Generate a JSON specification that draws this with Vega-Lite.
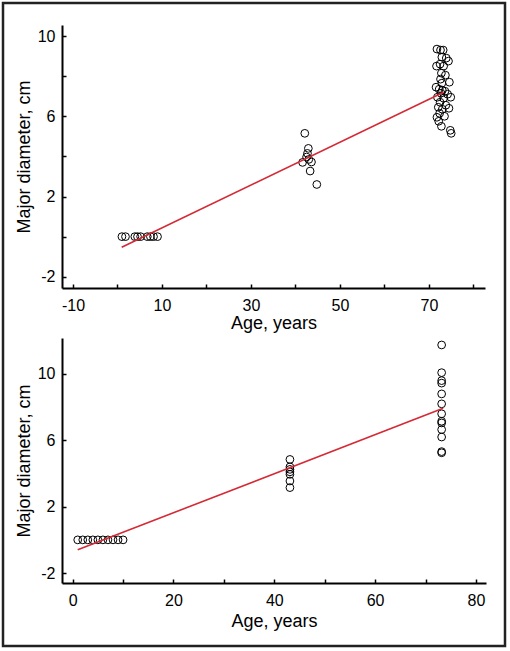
{
  "$schema": "https://vega.github.io/schema/vega-lite/v6.json",
  "padding": {"left": 3, "top": 3, "right": 2, "bottom": 2},
  "params": [{"name": "width", "value": 502}, {"name": "height", "value": 643}],
  "config": {
    "group": {"stroke": "#222222", "strokeWidth": 2.5, "fill": "white"},
    "view": {"stroke": null},
    "font": "Liberation Sans",
    "axis": {
      "grid": false,
      "domainColor": "black",
      "domainWidth": 2,
      "tickColor": "black",
      "tickWidth": 1.5,
      "tickSize": -4,
      "labelColor": "black",
      "labelFont": "Liberation Sans",
      "labelFontSize": 16,
      "labelFlush": false,
      "labelOverlap": false,
      "titleFont": "Liberation Sans",
      "titleFontSize": 18,
      "titleFontWeight": "normal",
      "titleColor": "black"
    }
  },
  "datasets": {
    "pts1": [
      {"age": 1.0, "diam": 0}, {"age": 1.8, "diam": 0}, {"age": 3.9, "diam": 0}, {"age": 4.5, "diam": 0},
      {"age": 5.2, "diam": 0}, {"age": 6.7, "diam": 0}, {"age": 7.4, "diam": 0}, {"age": 8.1, "diam": 0},
      {"age": 9.0, "diam": 0},
      {"age": 42.1, "diam": 5.15}, {"age": 42.9, "diam": 4.4}, {"age": 42.7, "diam": 4.15},
      {"age": 42.5, "diam": 3.97}, {"age": 41.6, "diam": 3.7}, {"age": 43.6, "diam": 3.72},
      {"age": 43.0, "diam": 3.85}, {"age": 43.3, "diam": 3.27}, {"age": 44.8, "diam": 2.6},
      {"age": 71.8, "diam": 9.35}, {"age": 72.6, "diam": 9.3}, {"age": 73.2, "diam": 9.3},
      {"age": 72.9, "diam": 8.95}, {"age": 73.9, "diam": 8.9}, {"age": 74.4, "diam": 8.75},
      {"age": 71.7, "diam": 8.5}, {"age": 72.5, "diam": 8.6}, {"age": 73.3, "diam": 8.5},
      {"age": 72.8, "diam": 8.15}, {"age": 73.7, "diam": 8.05}, {"age": 72.6, "diam": 7.85},
      {"age": 74.6, "diam": 7.7}, {"age": 72.9, "diam": 7.65}, {"age": 71.6, "diam": 7.45},
      {"age": 72.3, "diam": 7.35}, {"age": 73.0, "diam": 7.3}, {"age": 73.6, "diam": 7.25},
      {"age": 72.7, "diam": 7.15}, {"age": 74.2, "diam": 7.1}, {"age": 71.9, "diam": 6.95},
      {"age": 73.3, "diam": 6.9}, {"age": 74.9, "diam": 6.95}, {"age": 72.5, "diam": 6.7},
      {"age": 73.8, "diam": 6.55}, {"age": 72.1, "diam": 6.45}, {"age": 73.0, "diam": 6.35},
      {"age": 74.5, "diam": 6.4}, {"age": 72.4, "diam": 6.15}, {"age": 71.8, "diam": 5.95},
      {"age": 73.5, "diam": 6.0}, {"age": 72.2, "diam": 5.75}, {"age": 72.8, "diam": 5.5},
      {"age": 74.8, "diam": 5.3}, {"age": 75.0, "diam": 5.15}
    ],
    "line1": [{"age": 0.95, "diam": -0.53}, {"age": 73.3, "diam": 7.2}],
    "pts2": [
      {"age": 1, "diam": 0}, {"age": 2, "diam": 0}, {"age": 3, "diam": 0}, {"age": 4, "diam": 0},
      {"age": 5, "diam": 0}, {"age": 6, "diam": 0}, {"age": 7, "diam": 0}, {"age": 8, "diam": 0},
      {"age": 9, "diam": 0}, {"age": 10, "diam": 0},
      {"age": 43.1, "diam": 4.85}, {"age": 43.1, "diam": 4.4}, {"age": 43.1, "diam": 4.25},
      {"age": 43.1, "diam": 4.1}, {"age": 43.1, "diam": 3.95}, {"age": 43.1, "diam": 3.55},
      {"age": 43.1, "diam": 3.15},
      {"age": 73.2, "diam": 11.75}, {"age": 73.2, "diam": 10.08}, {"age": 73.2, "diam": 9.6},
      {"age": 73.2, "diam": 9.45}, {"age": 73.2, "diam": 8.8}, {"age": 73.2, "diam": 8.2},
      {"age": 73.2, "diam": 7.6}, {"age": 73.2, "diam": 7.15}, {"age": 73.2, "diam": 7.05},
      {"age": 73.2, "diam": 6.65}, {"age": 73.2, "diam": 6.2}, {"age": 73.2, "diam": 5.32},
      {"age": 73.2, "diam": 5.25}
    ],
    "line2": [{"age": 1.0, "diam": -0.6}, {"age": 73.5, "diam": 7.93}]
  },
  "spacing": 11,
  "hconcat": [
    {
      "width": 1,
      "height": 1,
      "data": {"values": []},
      "mark": "point"
    },
    {
      "spacing": 6,
      "vconcat": [
        {
          "width": 1,
          "height": 16,
          "data": {"values": []},
          "mark": "point"
        },
        {
          "width": 423,
          "height": 263,
          "layer": [
            {
              "data": {"name": "pts1"},
              "mark": {"type": "point", "shape": "circle", "filled": false, "stroke": "black", "strokeWidth": 1, "size": 60, "opacity": 1},
              "encoding": {
                "x": {
                  "field": "age", "type": "quantitative",
                  "scale": {"domain": [-12.47, 82.6], "nice": false, "zero": false},
                  "axis": {
                    "title": "Age, years",
                    "values": [-10, 0, 10, 20, 30, 40, 50, 60, 70, 80],
                    "labelExpr": "(datum.value + 10) % 20 == 0 ? '' + datum.value : ''",
                    "labelPadding": 13,
                    "titlePadding": 1
                  }
                },
                "y": {
                  "field": "diam", "type": "quantitative",
                  "scale": {"domain": [-2.56, 10.55], "nice": false, "zero": false},
                  "axis": {
                    "title": "Major diameter, cm",
                    "values": [-2, 0, 2, 4, 6, 8, 10],
                    "labelExpr": "(datum.value + 2) % 4 == 0 ? '' + datum.value : ''",
                    "labelPadding": 11,
                    "titlePadding": 4
                  }
                }
              }
            },
            {
              "data": {"name": "line1"},
              "mark": {"type": "line", "color": "#d42a35", "strokeWidth": 1.6},
              "encoding": {
                "x": {"field": "age", "type": "quantitative"},
                "y": {"field": "diam", "type": "quantitative"}
              }
            }
          ]
        },
        {
          "width": 424,
          "height": 245,
          "layer": [
            {
              "data": {"name": "pts2"},
              "mark": {"type": "point", "shape": "circle", "filled": false, "stroke": "black", "strokeWidth": 1, "size": 60, "opacity": 1},
              "encoding": {
                "x": {
                  "field": "age", "type": "quantitative",
                  "scale": {"domain": [-2.12, 82.0], "nice": false, "zero": false},
                  "axis": {
                    "title": "Age, years",
                    "values": [0, 10, 20, 30, 40, 50, 60, 70, 80],
                    "labelExpr": "datum.value % 20 == 0 ? '' + datum.value : ''",
                    "labelPadding": 13,
                    "titlePadding": 4
                  }
                },
                "y": {
                  "field": "diam", "type": "quantitative",
                  "scale": {"domain": [-2.6, 12.17], "nice": false, "zero": false},
                  "axis": {
                    "title": "Major diameter, cm",
                    "values": [-2, 0, 2, 4, 6, 8, 10, 12],
                    "labelExpr": "(datum.value + 2) % 4 == 0 ? '' + datum.value : ''",
                    "labelPadding": 11,
                    "titlePadding": 4
                  }
                }
              }
            },
            {
              "data": {"name": "line2"},
              "mark": {"type": "line", "color": "#d42a35", "strokeWidth": 1.6},
              "encoding": {
                "x": {"field": "age", "type": "quantitative"},
                "y": {"field": "diam", "type": "quantitative"}
              }
            }
          ]
        }
      ]
    }
  ]
}
